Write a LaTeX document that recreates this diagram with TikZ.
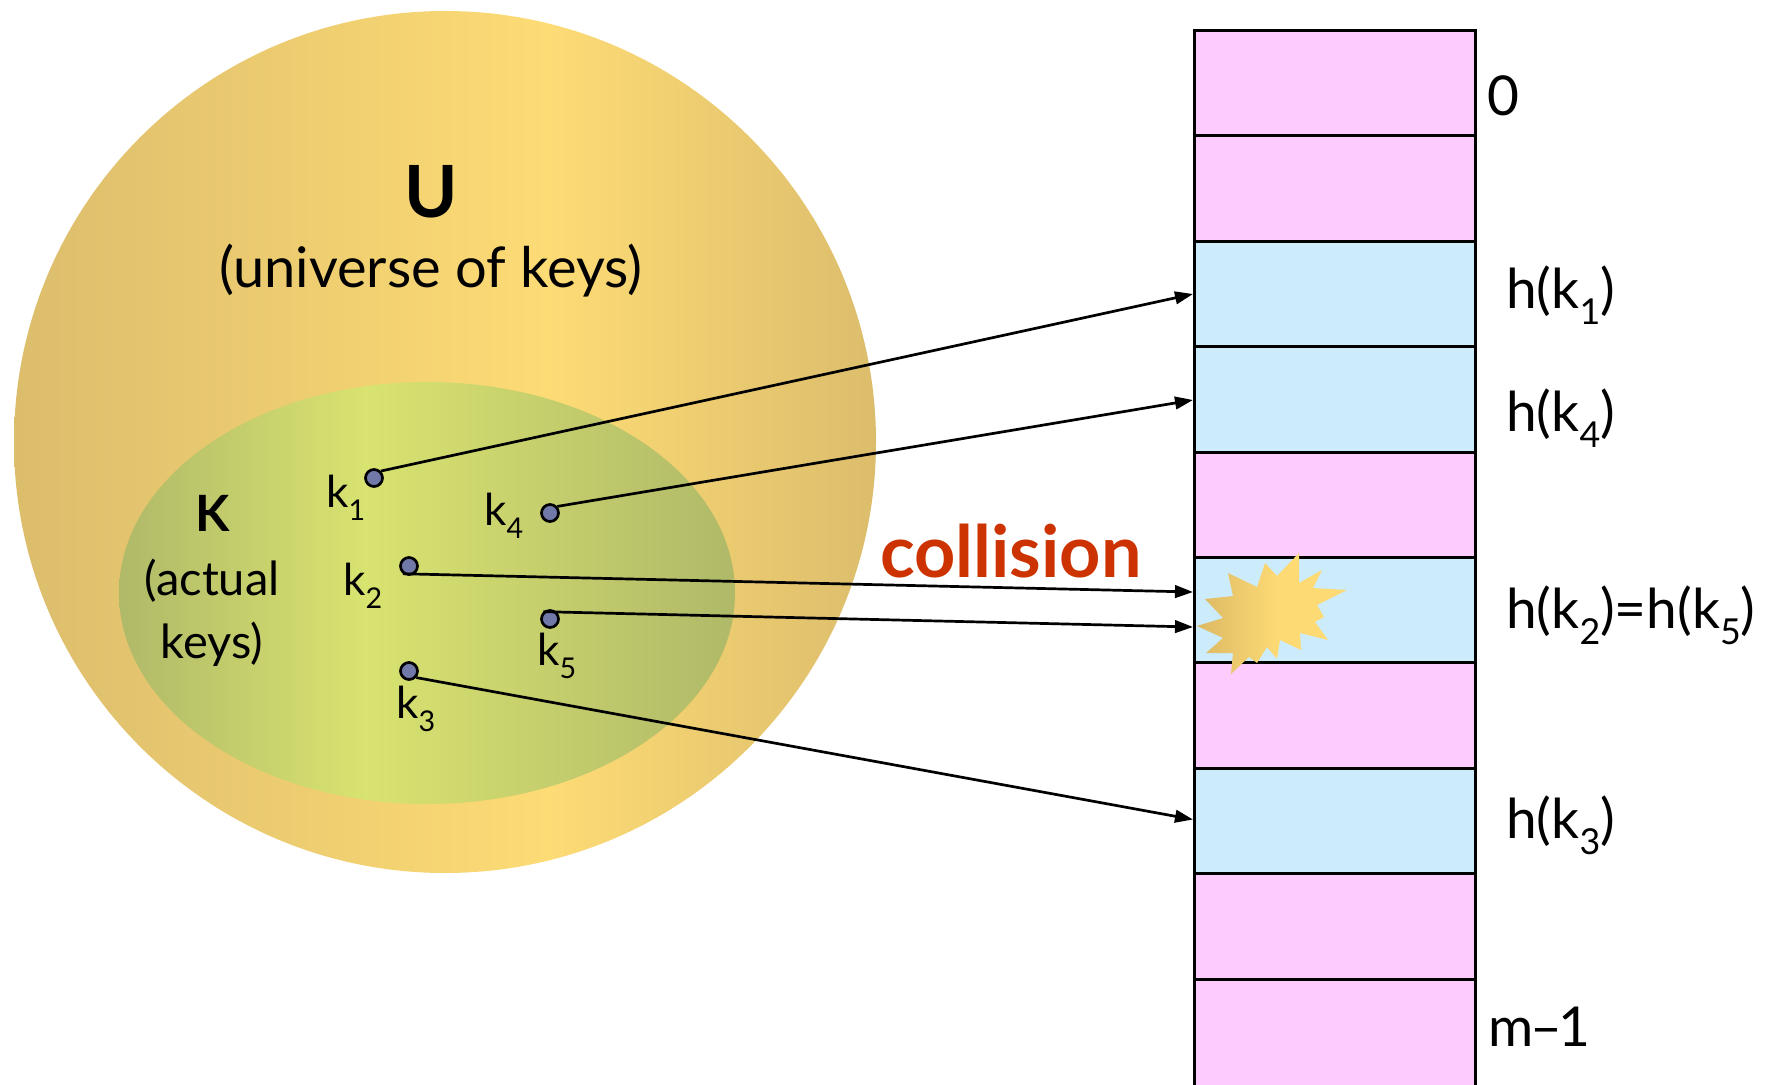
\documentclass[tikz,border=0pt]{standalone}
\usepackage{fontspec}
\setmainfont{Lato}
\usepackage{graphicx}
\usetikzlibrary{arrows.meta}
\definecolor{uedge}{RGB}{220,189,108}
\definecolor{umid}{RGB}{253,219,117}
\definecolor{kedge}{RGB}{176,185,104}
\definecolor{kmid}{RGB}{217,227,112}
\definecolor{sedge}{RGB}{220,185,100}
\definecolor{smid}{RGB}{253,218,116}
\definecolor{pinkrow}{RGB}{253,203,253}
\definecolor{bluerow}{RGB}{204,236,252}
\definecolor{dotfill}{RGB}{112,121,168}
\definecolor{collred}{RGB}{204,51,0}
\pgfdeclarehorizontalshading{ushade}{100bp}{color(0bp)=(uedge); color(25bp)=(uedge); color(56bp)=(umid); color(75bp)=(uedge); color(100bp)=(uedge)}
\pgfdeclarehorizontalshading{kshade}{100bp}{color(0bp)=(kedge); color(25bp)=(kedge); color(45bp)=(kmid); color(75bp)=(kedge); color(100bp)=(kedge)}
\pgfdeclarehorizontalshading{sshade}{100bp}{color(0bp)=(sedge); color(25bp)=(sedge); color(52bp)=(smid); color(75bp)=(smid); color(100bp)=(smid)}
\newcommand{\sbs}[1]{\raisebox{-0.3em}{\scalebox{0.65}{#1}}}
\begin{document}
\begin{tikzpicture}[x=1pt,y=-1pt,
  dot/.style={circle, draw=black, line width=2.7pt, fill=dotfill, minimum size=17pt, inner sep=0pt},
  arr/.style={line width=2.7pt, -{Triangle[length=18pt,width=12.5pt]}},
  cell/.style={draw=black, line width=3pt, minimum width=281pt, minimum height=105.4pt, inner sep=0pt, anchor=north west},
  pinkcell/.style={cell, fill=pinkrow},
  bluecell/.style={cell, fill=bluerow},
  lbl/.style={inner sep=0pt, anchor=base west, font=\fontsize{55}{60}\selectfont},
  klbl/.style={inner sep=0pt, anchor=base west, font=\fontsize{44}{50}\selectfont},
  ktxt/.style={inner sep=0pt, anchor=base, font=\fontsize{47}{52}\selectfont}]
\useasboundingbox (0,0) rectangle (1785,1084);
\clip (0,0) rectangle (1785,1084);
% sets
\path[shading=ushade] (445,442) circle [radius=431];
\path[shading=kshade] (427,593) ellipse [x radius=308, y radius=211];
% texts of sets
\node[inner sep=0pt, anchor=base, font=\bfseries\fontsize{72}{80}\selectfont] (U) at (431,217) {U};
\node[inner sep=0pt, anchor=base, font=\fontsize{56}{62}\selectfont] (Ut) at (431,287) {(universe of keys)};
\node[inner sep=0pt, anchor=base, font=\bfseries\fontsize{50}{56}\selectfont] (K) at (213,531) {K};
\node[ktxt] (Kt1) at (212,595) {(actual};
\node[ktxt] (Kt2) at (212,658) {keys)};
% table
\node[pinkcell] (r0) at (1193,29) {};
\node[pinkcell] (r1) at (1193,134.4) {};
\node[bluecell] (r2) at (1193,239.8) {};
\node[bluecell] (r3) at (1193,345.2) {};
\node[pinkcell] (r4) at (1193,450.6) {};
\node[bluecell] (r5) at (1193,556) {};
\node[pinkcell] (r6) at (1193,661.4) {};
\node[bluecell] (r7) at (1193,766.8) {};
\node[pinkcell] (r8) at (1193,872.2) {};
\node[pinkcell, minimum height=125pt] (r9) at (1193,977.6) {};
% collision star
\path[shading=sshade] (1299,553) -- (1299,583) -- (1322,570) -- (1313,588) -- (1347,590) -- (1317,605) -- (1324,617) -- (1315,622) -- (1328,640) -- (1300,633) -- (1301,650) -- (1280,640) -- (1277,659) -- (1267,647) -- (1257,663) -- (1249,657) -- (1231,674) -- (1233,653) -- (1206,653) -- (1223,638) -- (1197,626) -- (1223,618) -- (1205,599) -- (1233,596) -- (1228,573) -- (1257,587) -- (1265,563) -- (1277,576) -- cycle;
% row labels
\node[lbl] (l0) at (1487,115) {0};
\node[lbl] (l2) at (1506,308) {h(k\sbs{1})};
\node[lbl] (l3) at (1506,431) {h(k\sbs{4})};
\node[lbl] (l5) at (1506,628) {h(k\sbs{2})=h(k\sbs{5})};
\node[lbl] (l7) at (1506,838) {h(k\sbs{3})};
\node[lbl] (l9) at (1488,1046) {m\kern-0.06em–\kern-0.06em1};
% collision text
\node[inner sep=0pt, anchor=base west, text=collred, font=\bfseries\fontsize{72}{78}\selectfont] (coll) at (880,577) {collision};
% keys
\node[dot] (k1) at (374,478) {};
\node[dot] (k4) at (550,513) {};
\node[dot] (k2) at (409,566) {};
\node[dot] (k5) at (550,619) {};
\node[dot] (k3) at (409,671) {};
\node[klbl] (n1) at (326,507) {k\sbs{1}};
\node[klbl] (n4) at (484,525) {k\sbs{4}};
\node[klbl] (n2) at (343,595) {k\sbs{2}};
\node[klbl] (n5) at (537,665) {k\sbs{5}};
\node[klbl] (n3) at (396,718) {k\sbs{3}};
% arrow ends
\coordinate (e1) at (1193,294);
\coordinate (e4) at (1193,400);
\coordinate (e2) at (1193,592);
\coordinate (e5) at (1193,627);
\coordinate (e3) at (1193,819.5);
\draw[arr] (k1.45) -- (e1);
\draw[arr] (k4.42) -- (e4);
\draw[arr] (k2.232) -- (e2);
\draw[arr] (k5.132) -- (e5);
\draw[arr] (k3.-42) -- (e3);
\end{tikzpicture}
\end{document}
